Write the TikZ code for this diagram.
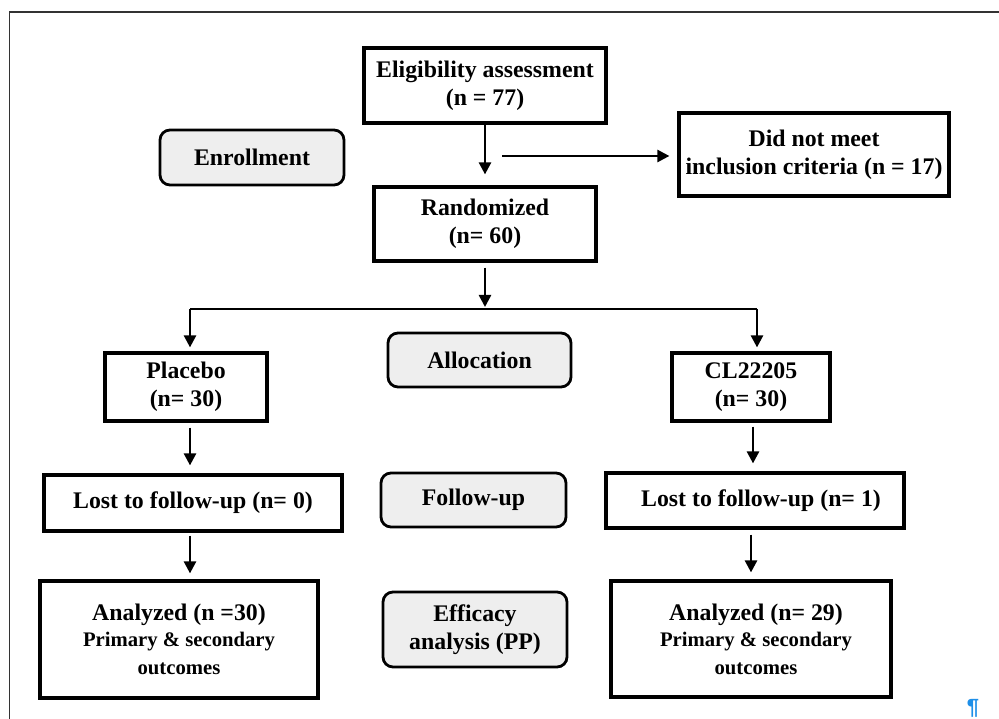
\documentclass[tikz,border=0pt]{standalone}
\usepackage{fontspec}
\setmainfont{Liberation Serif}
\newfontfamily\pilfont{Liberation Sans}
\usetikzlibrary{arrows.meta}
\definecolor{boxgray}{HTML}{EEEEEE}
\definecolor{pilblue}{HTML}{1E8FE8}
\definecolor{framegray}{HTML}{333333}
\begin{document}
\begin{tikzpicture}[x=1pt,y=-1pt,
  lbl/.style={font=\fontsize{23.8}{28}\selectfont\bfseries},
  box/.style={lbl, draw=black, line width=3.2pt, inner sep=0pt, align=center},
  stage/.style={lbl, draw=black, line width=2.8pt, rounded corners=10pt, fill=boxgray, inner sep=0pt, align=center},
  arr/.style={line width=2.5pt, -{Triangle[length=12pt,width=12pt]}},
  link/.style={line width=2.5pt}
]
\useasboundingbox (0,0) rectangle (999,719);
% outer frame
\draw[framegray, line width=1.4pt] (9.5,719) -- (9.5,12) -- (999,12);

% main flow
\node[box, minimum width=242pt, minimum height=75pt] (elig) at (485,85.5) {Eligibility assessment\\(n = 77)};
\node[box, minimum width=270pt, minimum height=83pt] (notmeet) at (814,154.5) {Did not meet\\inclusion criteria (n = 17)};
\node[box, minimum width=222pt, minimum height=74pt] (rand) at (485,224) {Randomized\\(n= 60)};
\node[box, minimum width=162pt, minimum height=68pt] (placebo) at (186,387) {Placebo\\(n= 30)};
\node[box, minimum width=158pt, minimum height=68pt] (cl) at (751,387) {CL22205\\(n= 30)};
\node[box, minimum width=298pt, minimum height=56pt] (lost0) at (193,503) {Lost to follow-up (n= 0)};
\node[box, minimum width=298pt, minimum height=55pt] (lost1) at (755,500.5) {\hspace*{12pt}Lost to follow-up (n= 1)};
\node[box, minimum width=278pt, minimum height=117pt] (an0) at (179,639.5) {Analyzed (n =30)\\[-2pt]\fontsize{20.7}{25.5}\selectfont Primary \& secondary\\\fontsize{20.7}{25.5}\selectfont outcomes};
\node[box, minimum width=280pt, minimum height=116pt] (an1) at (751,639) {\hspace*{10pt}Analyzed (n= 29)\\[-2pt]\fontsize{20.7}{25.5}\selectfont \hspace*{10pt}Primary \& secondary\\\fontsize{20.7}{25.5}\selectfont \hspace*{10pt}outcomes};

% stage labels
\node[stage, minimum width=184pt, minimum height=55pt] (enroll) at (252,157.5) {Enrollment};
\node[stage, minimum width=183pt, minimum height=54pt] (alloc) at (479.5,360) {Allocation};
\node[stage, minimum width=185pt, minimum height=54pt] (follow) at (473.5,500) {Follow-up};
\node[stage, minimum width=184pt, minimum height=75pt] (eff) at (475,629.5) {Efficacy\\analysis (PP)};

% connectors
\draw[arr, shorten >=11pt] (elig.south) -- (elig.south |- rand.north);
\coordinate (hstart) at (502,156);
\draw[arr, shorten >=8pt] (hstart) -- (hstart -| notmeet.west);
\coordinate (split) at (485,309);
\coordinate (bl) at (190,309);
\coordinate (br) at (757,309);
\draw[arr, shorten <=5pt, shorten >=2pt] (rand.south) -- (split);
\draw[link] (bl) -- (br);
\draw[arr, shorten >=4pt] (bl) -- (bl |- placebo.north);
\draw[arr, shorten >=4pt] (br) -- (br |- cl.north);
\draw[arr, shorten <=5pt, shorten >=8pt] ([xshift=4pt]placebo.south) -- ([xshift=4pt]placebo.south |- lost0.north);
\draw[arr, shorten <=3pt, shorten >=6pt] ([xshift=-3pt]lost0.south) -- ([xshift=-3pt]lost0.south |- an0.north);
\draw[arr, shorten <=4pt, shorten >=8pt] ([xshift=2pt]cl.south) -- ([xshift=2pt]cl.south |- lost1.north);
\draw[arr, shorten <=5pt, shorten >=7pt] ([xshift=-4pt]lost1.south) -- ([xshift=-4pt]lost1.south |- an1.north);

% pilcrow
\node[text=pilblue, font=\fontsize{22}{22}\selectfont\pilfont\bfseries, inner sep=0pt] (pil) at (973,708) {¶};
\end{tikzpicture}
\end{document}
